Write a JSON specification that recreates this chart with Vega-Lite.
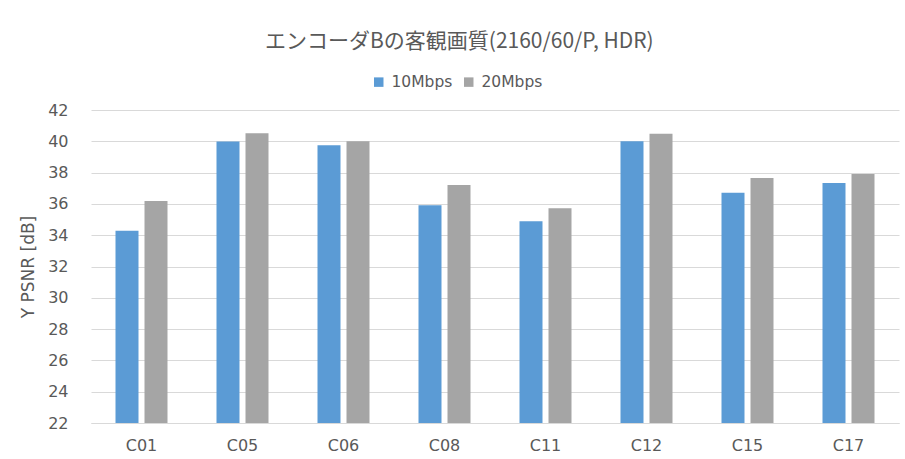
{
  "$schema": "https://vega.github.io/schema/vega-lite/v6.json",
  "autosize": "none",
  "width": 808,
  "height": 313,
  "padding": {"left": 91, "top": 110, "right": 6, "bottom": 36},
  "background": "white",
  "title": {
    "text": "エンコーダBの客観画質(2160/60/P, HDR)",
    "font": "Noto Sans CJK JP",
    "fontSize": 21,
    "fontWeight": "normal",
    "color": "#595959",
    "anchor": "middle",
    "frame": "bounds",
    "offset": 22
  },
  "data": {
    "values": [
      {"cat": "C01", "rate": "10Mbps", "psnr": 34.29},
      {"cat": "C01", "rate": "20Mbps", "psnr": 36.19},
      {"cat": "C05", "rate": "10Mbps", "psnr": 39.98},
      {"cat": "C05", "rate": "20Mbps", "psnr": 40.51},
      {"cat": "C06", "rate": "10Mbps", "psnr": 39.74},
      {"cat": "C06", "rate": "20Mbps", "psnr": 40.0},
      {"cat": "C08", "rate": "10Mbps", "psnr": 35.91},
      {"cat": "C08", "rate": "20Mbps", "psnr": 37.21},
      {"cat": "C11", "rate": "10Mbps", "psnr": 34.89},
      {"cat": "C11", "rate": "20Mbps", "psnr": 35.72},
      {"cat": "C12", "rate": "10Mbps", "psnr": 40.0},
      {"cat": "C12", "rate": "20Mbps", "psnr": 40.49},
      {"cat": "C15", "rate": "10Mbps", "psnr": 36.72},
      {"cat": "C15", "rate": "20Mbps", "psnr": 37.66},
      {"cat": "C17", "rate": "10Mbps", "psnr": 37.34},
      {"cat": "C17", "rate": "20Mbps", "psnr": 37.91}
    ]
  },
  "mark": {"type": "bar", "clip": true},
  "encoding": {
    "x": {
      "field": "cat",
      "type": "nominal",
      "scale": {"paddingInner": 0, "paddingOuter": 0},
      "axis": {
        "title": null,
        "labelAngle": 0,
        "labelFont": "DejaVu Sans",
        "labelFontSize": 16,
        "labelColor": "#595959",
        "labelPadding": 14,
        "ticks": false,
        "domainColor": "#D9D9D9",
        "domainWidth": 1
      }
    },
    "xOffset": {
      "field": "rate",
      "type": "nominal",
      "scale": {"paddingInner": 0.207, "paddingOuter": 0.845}
    },
    "y": {
      "field": "psnr",
      "type": "quantitative",
      "scale": {"domain": [22, 42], "nice": false, "zero": false},
      "axis": {
        "title": "Y PSNR [dB]",
        "titleFont": "DejaVu Sans",
        "titleFontSize": 17,
        "titleFontWeight": "normal",
        "titleColor": "#595959",
        "titlePadding": 10,
        "values": [22, 24, 26, 28, 30, 32, 34, 36, 38, 40, 42],
        "labelFont": "DejaVu Sans",
        "labelFontSize": 16,
        "labelColor": "#595959",
        "labelPadding": 23,
        "ticks": false,
        "domain": false,
        "grid": true,
        "gridColor": "#D9D9D9",
        "gridWidth": 1
      }
    },
    "color": {
      "field": "rate",
      "type": "nominal",
      "scale": {"domain": ["10Mbps", "20Mbps"], "range": ["#5B9BD5", "#A5A5A5"]},
      "legend": {
        "title": null,
        "orient": "none",
        "direction": "horizontal",
        "legendX": 280,
        "legendY": -36,
        "symbolType": "square",
        "symbolSize": 90,
        "symbolStrokeWidth": 0,
        "labelFont": "DejaVu Sans",
        "labelFontSize": 15.5,
        "labelColor": "#595959",
        "columnPadding": 8,
        "labelOffset": 5
      }
    }
  },
  "config": {"view": {"stroke": null}}
}
